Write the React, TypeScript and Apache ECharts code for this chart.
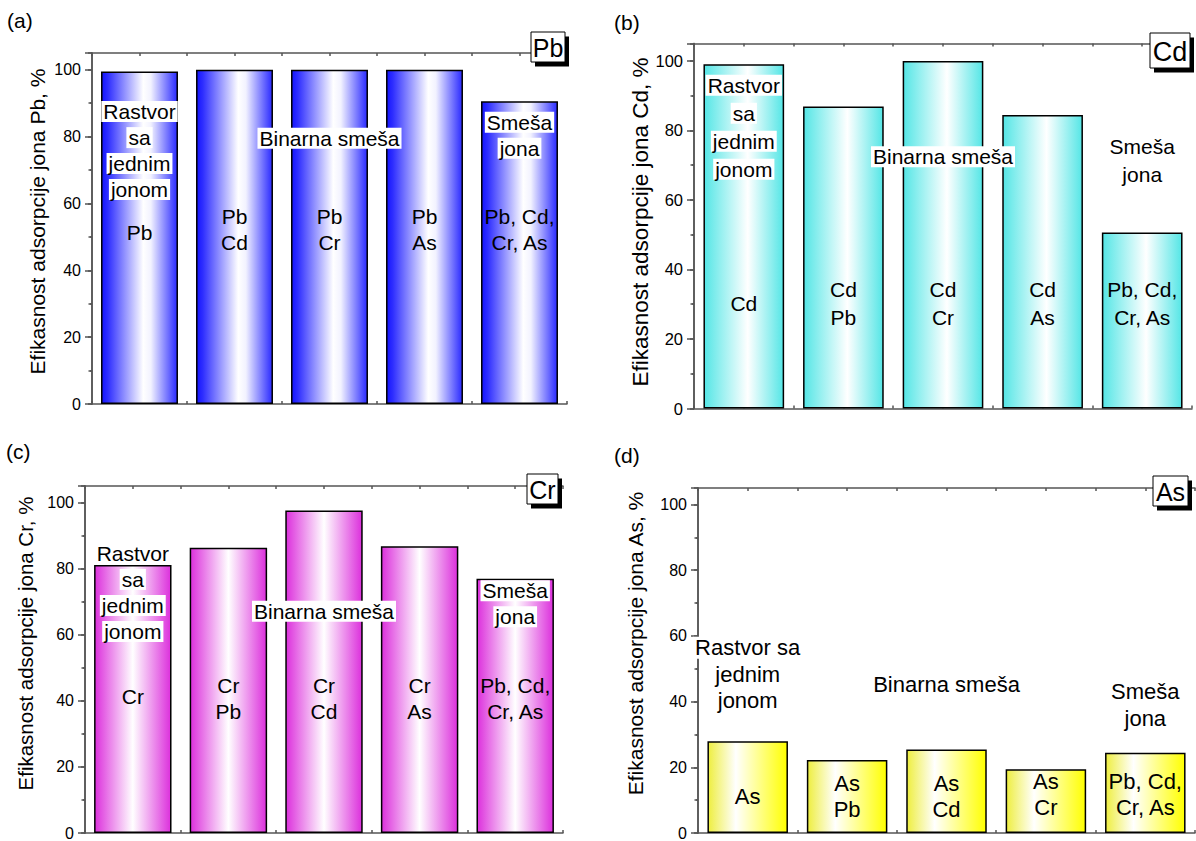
import React, { useEffect, useRef } from "react";
import * as echarts from "echarts";

const FONT = 'Arial, "Liberation Sans", Helvetica, sans-serif';

// ---------- data ----------
const categories = ["single", "binary1", "binary2", "binary3", "mixture"];
const yTickLabels = ["0", "20", "40", "60", "80", "100"];
const yMin = 0;
const yMax = 105;

const valuesPb = [99.5, 100, 100, 100, 90.6];
const valuesCd = [99.0, 86.9, 100, 84.4, 50.6];
const valuesCr = [81.1, 86.3, 97.6, 86.8, 76.9];
const valuesAs = [27.9, 22.2, 25.4, 19.4, 24.4];

const ionLabelsPb = ["Pb", "Pb\nCd", "Pb\nCr", "Pb\nAs", "Pb, Cd,\nCr, As"];
const ionLabelsCd = ["Cd", "Cd\nPb", "Cd\nCr", "Cd\nAs", "Pb, Cd,\nCr, As"];
const ionLabelsCr = ["Cr", "Cr\nPb", "Cr\nCd", "Cr\nAs", "Pb, Cd,\nCr, As"];
const ionLabelsAs = ["As", "As\nPb", "As\nCd", "As\nCr", "Pb, Cd,\nCr, As"];

const ionLabelYPb = [51.4, 52.3, 52.3, 52.3, 52.3];
const ionLabelYCd = [30.3, 30.3, 30.3, 30.3, 30.3];
const ionLabelYCr = [41.3, 40.6, 40.6, 40.6, 40.8];
const ionLabelYAs = [11.2, 11.1, 11.1, 11.7, 11.7];

const groupNames = ["Rastvor\nsa\njednim\njonom", "Binarna smeša", "Smeša\njona"];
const groupNamesAs = ["Rastvor sa\njednim\njonom", "Binarna smeša", "Smeša\njona"];
const groupCategory = [0, 2, 4];
const groupYPb = [75.8, 79.5, 80.4];
const groupYCd = [80.9, 72.4, 71.2];
const groupYCr = [72.8, 67.1, 69.4];
const groupYAs = [48.3, 45.3, 38.9];

const panelLetters = ["(a)", "(b)", "(c)", "(d)"];
const ionNames = ["Pb", "Cd", "Cr", "As"];

// ---------- layout / style ----------
const panels = [
  {
    values: valuesPb, ionLabels: ionLabelsPb, ionY: ionLabelYPb, groups: groupNames, groupY: groupYPb,
    grid: { left: 92, top: 53, width: 475, height: 351 },
    stops: [[0, "#1414ff"], [0.08, "#2e2eff"], [0.55, "#ffffff"], [0.65, "#f2f2ff"], [1, "#2a2aff"]],
    font: 21, lh: 26, tickFont: 16, titleFont: 21, titleGap: 55, titleShift: 14,
    letterPos: [7, 22], box: { x: 531, y: 32, w: 34, h: 30, font: 25 },
  },
  {
    values: valuesCd, ionLabels: ionLabelsCd, ionY: ionLabelYCd, groups: groupNames, groupY: groupYCd,
    grid: { left: 694, top: 43.5, width: 498, height: 365 },
    stops: [[0, "#55e6e6"], [0.55, "#ffffff"], [1, "#55e6e6"]],
    font: 21, lh: 28, tickFont: 16.5, titleFont: 22.5, titleGap: 54, titleShift: 8,
    letterPos: [614, 24], box: { x: 1150, y: 33, w: 40, h: 35, font: 27 },
  },
  {
    values: valuesCr, ionLabels: ionLabelsCr, ionY: ionLabelYCr, groups: groupNames, groupY: groupYCr,
    grid: { left: 85, top: 486, width: 478, height: 351.3 },
    stops: [[0, "#dc30dc"], [0.5, "#ffffff"], [1, "#dc30dc"]],
    font: 21, lh: 26, tickFont: 16, titleFont: 20.5, titleGap: 60, titleShift: 32,
    letterPos: [6, 453], box: { x: 527, y: 474, w: 31, h: 30, font: 25 },
  },
  {
    values: valuesAs, ionLabels: ionLabelsAs, ionY: ionLabelYAs, groups: groupNamesAs, groupY: groupYAs,
    grid: { left: 698, top: 488, width: 497, height: 351.3 },
    stops: [[0, "#eeee40"], [0.35, "#ffffff"], [1, "#ffff00"]],
    font: 22, lh: 26.5, tickFont: 16, titleFont: 21, titleGap: 63, titleShift: 34,
    letterPos: [614, 457], box: { x: 1153, y: 476, w: 35, h: 30, font: 25 },
  },
];

const AXIS_COLOR = "#555";

function buildOption() {
  const grid: any[] = [];
  const xAxis: any[] = [];
  const yAxis: any[] = [];
  const series: any[] = [];
  const graphic: any[] = [];

  panels.forEach((p, i) => {
    grid.push({ ...p.grid, containLabel: false });
    xAxis.push({
      type: "category", gridIndex: i, data: categories, position: "bottom",
      axisLine: { show: true, lineStyle: { color: AXIS_COLOR, width: 1.5 } },
      axisTick: { show: false }, axisLabel: { show: false }, splitLine: { show: false },
    });
    xAxis.push({
      type: "value", gridIndex: i, min: 0, max: categories.length, interval: 0.5, position: "bottom",
      axisLine: { show: false }, axisTick: { show: true, inside: true, length: 3, lineStyle: { color: AXIS_COLOR, width: 1.5 } },
      axisLabel: { show: false }, splitLine: { show: false },
    });
    xAxis.push({
      type: "value", gridIndex: i, min: 0, max: categories.length, interval: 0.5, position: "top",
      axisLine: { show: true, lineStyle: { color: AXIS_COLOR, width: 1.5 } },
      axisTick: { show: true, inside: true, length: 3, lineStyle: { color: AXIS_COLOR, width: 1.5 } },
      axisLabel: { show: false }, splitLine: { show: false },
    });
    yAxis.push({
      type: "value", gridIndex: i, min: yMin, max: yMax, interval: 20, position: "left",
      name: `Efikasnost adsorpcije jona ${ionNames[i]}, %`,
      nameLocation: "middle", nameRotate: 90, nameGap: p.titleGap,
      nameTextStyle: {
        fontFamily: FONT, fontSize: p.titleFont, color: "#000", verticalAlign: "middle", align: "center",
        padding: [0, 0, 0, p.titleShift],
      },
      axisLine: { show: true, lineStyle: { color: AXIS_COLOR, width: 1.5 } },
      axisTick: { show: true, inside: false, length: 7, lineStyle: { color: AXIS_COLOR, width: 1.5 } },
      minorTick: { show: true, splitNumber: 2, length: 3.5, lineStyle: { color: AXIS_COLOR, width: 1.5 } },
      axisLabel: {
        show: true, margin: 11, fontFamily: FONT, fontSize: p.tickFont, color: "#000",
        showMaxLabel: false,
        formatter: (v: number) => (yTickLabels.includes(String(v)) ? String(v) : ""),
      },
      splitLine: { show: false },
    });
    yAxis.push({
      type: "value", gridIndex: i, min: yMin, max: yMax, interval: 20, position: "right",
      axisLine: { show: true, lineStyle: { color: AXIS_COLOR, width: 1.5 } },
      axisTick: { show: true, inside: true, length: 4, lineStyle: { color: AXIS_COLOR, width: 1.5 } },
      minorTick: { show: true, splitNumber: 2, length: 2, lineStyle: { color: AXIS_COLOR, width: 1.5 } },
      axisLabel: { show: false }, splitLine: { show: false },
    });

    const gradient = new echarts.graphic.LinearGradient(
      0, 0, 1, 0,
      p.stops.map(([offset, color]) => ({ offset: offset as number, color: color as string }))
    );

    series.push({
      type: "bar", xAxisIndex: i * 3, yAxisIndex: i * 2, data: p.values,
      barWidth: "81%",
      itemStyle: { color: gradient, borderColor: "#000", borderWidth: 1.5 },
      z: 2,
    });

    series.push({
      type: "scatter", xAxisIndex: i * 3, yAxisIndex: i * 2, silent: true,
      symbolSize: 1, itemStyle: { color: "transparent", opacity: 1 }, z: 5,
      data: p.ionY.map((y, k) => [k, y]),
      label: {
        show: true, position: "inside", opacity: 1,
        formatter: (prm: any) => p.ionLabels[prm.dataIndex],
        fontFamily: FONT, fontSize: p.font, lineHeight: p.lh, color: "#000", align: "center",
      },
    });

    series.push({
      type: "scatter", xAxisIndex: i * 3, yAxisIndex: i * 2, silent: true,
      symbolSize: 1, itemStyle: { color: "transparent", opacity: 1 }, z: 6,
      data: p.groupY.map((y, k) => [groupCategory[k], y]),
      label: {
        show: true, position: "inside", align: "center", opacity: 1,
        formatter: (prm: any) =>
          p.groups[prm.dataIndex].split("\n").map((l) => `{w|${l}}`).join("\n"),
        rich: {
          w: {
            fontFamily: FONT, fontSize: p.font, lineHeight: p.lh, color: "#000",
            backgroundColor: "#fff", padding: [0, 2], align: "center",
          },
        },
      },
    });

    graphic.push({
      type: "text", left: p.letterPos[0], top: p.letterPos[1] - 12,
      style: { text: panelLetters[i], fontFamily: FONT, fontSize: 21, fill: "#000" },
      z: 10,
    });
    const b = p.box;
    graphic.push({
      type: "group", z: 20,
      children: [
        { type: "rect", shape: { x: b.x + 4, y: b.y + 4.5, width: b.w, height: b.h }, style: { fill: "#000" }, z: 20 },
        { type: "rect", shape: { x: b.x, y: b.y, width: b.w, height: b.h }, style: { fill: "#fff", stroke: "#000", lineWidth: 1 }, z: 21 },
        {
          type: "text", x: b.x + b.w / 2, y: b.y + b.h / 2 + 1, z: 22,
          style: { text: ionNames[i], fontFamily: FONT, fontSize: b.font, fill: "#000", align: "center", verticalAlign: "middle" },
        },
      ],
    });
  });

  return { animation: false, backgroundColor: "#fff", grid, xAxis, yAxis, series, graphic };
}

export default function App() {
  const ref = useRef<HTMLDivElement>(null);
  useEffect(() => {
    document.body.style.margin = "0";
    if (!ref.current) return;
    const chart = echarts.init(ref.current, undefined, { renderer: "svg" });
    chart.setOption(buildOption() as any);
    return () => chart.dispose();
  }, []);
  return <div ref={ref} style={{ width: 1196, height: 841 }} />;
}
